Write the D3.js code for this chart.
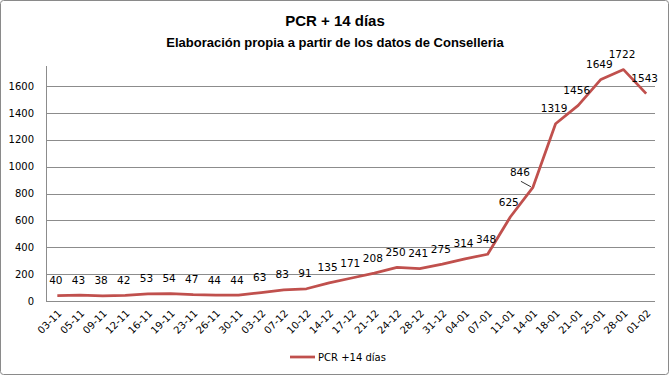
<!DOCTYPE html>
<html>
<head>
<meta charset="utf-8">
<script src="https://cdn.jsdelivr.net/npm/d3@7"></script>
<style>
  body { margin: 0; background: #fff; }
  text { font-family: "DejaVu Sans", Verdana, sans-serif; fill: #000; }
  .title { font-family: "Liberation Sans", Arial, sans-serif; font-weight: bold; }
</style>
</head>
<body>
<div id="container"></div>
<script>
/* DATA */
const dates = ["03-11","05-11","09-11","12-11","16-11","19-11","23-11","26-11","30-11",
  "03-12","07-12","10-12","14-12","17-12","21-12","24-12","28-12","31-12",
  "04-01","07-01","11-01","14-01","18-01","21-01","25-01","28-01","01-02"];
const pcr = [40,43,38,42,53,54,47,44,44,63,83,91,135,171,208,250,241,275,314,348,625,846,1319,1456,1649,1722,1543];
const yTicks = [0,200,400,600,800,1000,1200,1400,1600];
const seriesName = "PCR +14 días";

/* CONSTANTS */
const W = 670, H = 376;
const margin = {top: 86, right: 14, bottom: 75, left: 46};
const lineColor = "#C0504D";

const svg = d3.select("#container")
  .append("svg")
  .attr("width", W)
  .attr("height", H);

// outer border
svg.append("rect")
  .attr("x", 0.5).attr("y", 0.5)
  .attr("width", W - 2).attr("height", H - 2)
  .attr("rx", 3)
  .attr("fill", "#fff")
  .attr("stroke", "#8a8a8a");

/* SCALES */
const xScale = d3.scaleBand()
  .domain(dates)
  .range([margin.left, 657.5]);

const yScale = d3.scaleLinear()
  .domain([0, 1600])
  .range([H - margin.bottom, margin.top]);

// gridlines
svg.append("g")
  .selectAll("line")
  .data(yTicks)
  .join("line")
  .attr("x1", margin.left)
  .attr("x2", 655)
  .attr("y1", d => Math.round(yScale(d)) + 0.5)
  .attr("y2", d => Math.round(yScale(d)) + 0.5)
  .attr("stroke", "#8c8c8c")
  .attr("stroke-width", 1);

// y axis
const yAxis = svg.append("g")
  .attr("transform", `translate(${margin.left},0)`)
  .call(d3.axisLeft(yScale).tickValues(yTicks).tickFormat(d3.format("d")).tickSize(0).tickPadding(12));
yAxis.select(".domain").remove();
yAxis.selectAll("text").style("font-size", "10px").style("font-family", "DejaVu Sans, Verdana, sans-serif");

svg.append("line")
  .attr("x1", margin.left + 0.5).attr("x2", margin.left + 0.5)
  .attr("y1", 66).attr("y2", Math.round(yScale(0)) + 0.5)
  .attr("stroke", "#8c8c8c");

// x axis
const xAxis = svg.append("g")
  .attr("transform", `translate(0,${yScale(0)})`)
  .call(d3.axisBottom(xScale).tickSize(0).tickPadding(0));
xAxis.select(".domain").remove();
xAxis.selectAll("text")
  .style("font-size", "10px")
  .style("font-family", "DejaVu Sans, Verdana, sans-serif")
  .attr("dy", null)
  .attr("transform", "translate(5,13)rotate(-45)")
  .style("text-anchor", "end");

/* LINE */
const cx = (d, i) => xScale(dates[i]) + xScale.bandwidth() / 2;
const line = d3.line()
  .x((d, i) => cx(d, i))
  .y(d => yScale(d));

svg.append("path")
  .datum(pcr)
  .attr("d", line)
  .attr("fill", "none")
  .attr("stroke", lineColor)
  .attr("stroke-width", 2.75)
  .attr("stroke-linejoin", "round");

/* DATA LABELS */
svg.append("g")
  .selectAll("text")
  .data(pcr)
  .join("text")
  .attr("x", (d, i) => d === 846 ? cx(d, i) - 13 : cx(d, i) - 1.5)
  .attr("y", d => yScale(d) - 11.5)
  .attr("text-anchor", "middle")
  .style("font-size", "10.5px")
  .text(d => d);

// leader line for 846
const i846 = pcr.indexOf(846);
svg.append("line")
  .attr("x1", cx(846, i846) - 12).attr("y1", yScale(846) - 6)
  .attr("x2", cx(846, i846) - 2).attr("y2", yScale(846) - 0.5)
  .attr("stroke", "#000")
  .attr("stroke-width", 0.8);

/* LEGEND */
svg.append("line")
  .attr("x1", 290).attr("x2", 315)
  .attr("y1", 357).attr("y2", 357)
  .attr("stroke", lineColor)
  .attr("stroke-width", 2.75);
svg.append("text")
  .attr("x", 318).attr("y", 361)
  .style("font-size", "10px")
  .text(seriesName);

/* TITLES */
svg.append("text")
  .attr("class", "title")
  .attr("x", 335).attr("y", 26)
  .attr("text-anchor", "middle")
  .style("font-size", "15px")
  .text("PCR + 14 días");
svg.append("text")
  .attr("class", "title")
  .attr("x", 335).attr("y", 47)
  .attr("text-anchor", "middle")
  .style("font-size", "13px")
  .text("Elaboración propia a partir de los datos de Conselleria");
</script>
</body>
</html>
